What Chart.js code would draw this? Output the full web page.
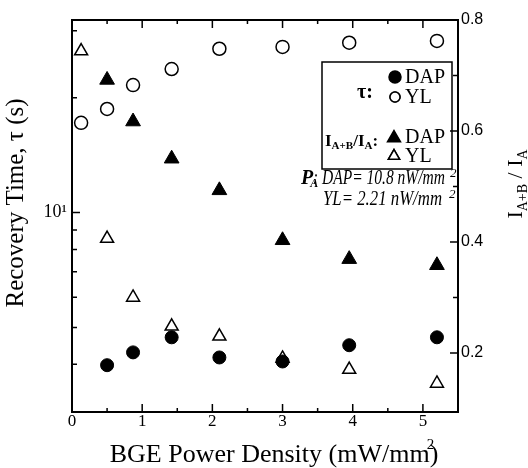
<!DOCTYPE html>
<html>
<head>
<meta charset="utf-8">
<script src="https://cdn.jsdelivr.net/npm/chart.js@4/dist/chart.umd.min.js"></script>
<style>
  body { margin: 0; background: #fff; }
  #wrap { width: 528px; height: 468px; }
</style>
</head>
<body>
<div id="wrap"><canvas id="chart"></canvas></div>
<script>
// values
const powerDAP = [0.5, 0.87, 1.42, 2.1, 3.0, 3.95, 5.2];
const powerYL = [0.13, 0.5, 0.87, 1.42, 2.1, 3.0, 3.95, 5.2];
const tauDAP = [3.98, 4.30, 4.71, 4.17, 4.07, 4.49, 4.71];
const tauYL = [17.2, 18.7, 21.6, 23.8, 26.9, 27.2, 27.9, 28.2];
const ratioDAP = [0.692, 0.617, 0.550, 0.493, 0.403, 0.369, 0.358];
const ratioYL = [0.744, 0.406, 0.300, 0.248, 0.230, 0.190, 0.170, 0.145];

const xTicks = [0, 1, 2, 3, 4, 5];
const xMinorTicks = [0.5, 1.5, 2.5, 3.5, 4.5];
const tauTicks = [10];
const tauMinorTicks = [4, 5, 6, 7, 8, 9, 20, 30];
const ratioTicks = [0.2, 0.4, 0.6, 0.8];
const ratioMinorTicks = [0.3, 0.5, 0.7];

const serif = '"Liberation Serif", "Times New Roman", serif';
const sans = '"Liberation Sans", Arial, sans-serif';

function pts(xs, ys) {
    return xs.map((x, i) => ({ x: x, y: ys[i] }));
}

// draw a string squeezed/stretched to a given width
function fitText(ctx, str, x, y, width) {
    const w = ctx.measureText(str).width;
    ctx.save();
    ctx.translate(x, y);
    ctx.scale(width / w, 1);
    ctx.fillText(str, 0, 0);
    ctx.restore();
}

const decorations = {
    id: 'decorations',
    afterDraw(chart) {
        const ctx = chart.ctx;
        const a = chart.chartArea;
        const xs = chart.scales.x;
        const yl = chart.scales.y;
        const yr = chart.scales.y2;

        ctx.save();
        ctx.strokeStyle = '#000';
        ctx.fillStyle = '#000';

        // frame
        ctx.lineWidth = 2;
        ctx.strokeRect(a.left, a.top, a.right - a.left, a.bottom - a.top);

        // inward ticks
        ctx.lineWidth = 1.5;
        ctx.beginPath();
        xTicks.concat(xMinorTicks).forEach(v => {
            const px = xs.getPixelForValue(v);
            const len = xTicks.includes(v) ? 8 : 4;
            ctx.moveTo(px, a.bottom); ctx.lineTo(px, a.bottom - len);
            ctx.moveTo(px, a.top); ctx.lineTo(px, a.top + len);
        });
        tauTicks.concat(tauMinorTicks).forEach(v => {
            const py = yl.getPixelForValue(v);
            const len = tauTicks.includes(v) ? 8 : 5;
            ctx.moveTo(a.left, py); ctx.lineTo(a.left + len, py);
        });
        ratioTicks.concat(ratioMinorTicks).forEach(v => {
            const py = yr.getPixelForValue(v);
            const len = ratioTicks.includes(v) ? 8 : 5;
            ctx.moveTo(a.right, py); ctx.lineTo(a.right - len, py);
        });
        ctx.stroke();

        // x title
        ctx.textBaseline = 'alphabetic';
        ctx.textAlign = 'left';
        ctx.font = '26px ' + serif;
        const t1 = 'BGE Power Density (mW/mm';
        const w1 = ctx.measureText(t1).width;
        const w3 = ctx.measureText(')').width;
        let x0 = 274 - (w1 + w3) / 2;
        ctx.fillText(t1, x0, 462);
        ctx.fillText(')', x0 + w1, 462);
        ctx.font = '15px ' + serif;
        ctx.fillText('2', x0 + w1 - 3, 449);

        // left title
        ctx.save();
        ctx.translate(23, 203);
        ctx.rotate(-Math.PI / 2);
        ctx.textAlign = 'center';
        ctx.font = '25px ' + serif;
        ctx.fillText('Recovery Time, \u03c4 (s)', 0, 0);
        ctx.restore();

        // right title  I_{A+B} / I_A
        ctx.save();
        ctx.translate(522, 184);
        ctx.rotate(-Math.PI / 2);
        ctx.textAlign = 'left';
        const big = '22px ' + serif, small = '14px ' + serif;
        const parts = [['I', big, 0], ['A+B', small, 5], [' / ', big, 0], ['I', big, 0], ['A', small, 5]];
        let total = 0;
        parts.forEach(p => { ctx.font = p[1]; total += ctx.measureText(p[0]).width; });
        let cx = -total / 2;
        parts.forEach(p => {
            ctx.font = p[1];
            ctx.fillText(p[0], cx, p[2]);
            cx += ctx.measureText(p[0]).width;
        });
        ctx.restore();

        // legend box
        ctx.lineWidth = 1.5;
        ctx.strokeRect(322, 62, 130, 107);
        const H = Chart.helpers;
        H.drawPoint(ctx, { pointStyle: 'circle', radius: 6, borderWidth: 1 }, 395, 77);
        ctx.fill();
        ctx.fillStyle = '#fff';
        H.drawPoint(ctx, { pointStyle: 'circle', radius: 5, borderWidth: 1.3 }, 395, 97);
        ctx.fill(); ctx.stroke();
        ctx.fillStyle = '#000';
        H.drawPoint(ctx, { pointStyle: 'triangle', radius: 7.5, borderWidth: 1 }, 394, 138);
        ctx.fill();
        ctx.fillStyle = '#fff';
        H.drawPoint(ctx, { pointStyle: 'triangle', radius: 6.5, borderWidth: 1.3 }, 394, 156);
        ctx.fill(); ctx.stroke();
        ctx.fillStyle = '#000';

        ctx.textBaseline = 'middle';
        ctx.font = '20px ' + serif;
        ctx.fillText('DAP', 405, 78);
        ctx.fillText('YL', 405, 98);
        ctx.fillText('DAP', 405, 138);
        ctx.fillText('YL', 405, 157);
        ctx.font = 'bold 20px ' + serif;
        ctx.fillText('\u03c4:', 357, 93);

        // I_{A+B}/I_A:
        ctx.textBaseline = 'alphabetic';
        const lparts = [['I', 'bold 17px ' + serif, 0], ['A+B', 'bold 11px ' + serif, 3],
                        ['/I', 'bold 17px ' + serif, 0], ['A', 'bold 11px ' + serif, 3], [':', 'bold 17px ' + serif, 0]];
        let lx = 325;
        lparts.forEach(p => {
            ctx.font = p[1];
            ctx.fillText(p[0], lx, 146 + p[2]);
            lx += ctx.measureText(p[0]).width;
        });

        // P_A annotation
        ctx.font = 'italic bold 20px ' + serif;
        ctx.fillText('P', 301, 184);
        let pw = ctx.measureText('P').width * 0.75;
        ctx.font = 'italic bold 12px ' + serif;
        ctx.fillText('A', 301 + pw, 187);
        ctx.font = 'italic 20px ' + serif;
        fitText(ctx, ': DAP= 10.8 nW/mm', 313, 184, 132);
        fitText(ctx, 'YL= 2.21 nW/mm', 323, 205, 119);
        ctx.font = 'italic 13px ' + serif;
        ctx.fillText('2', 450, 177);
        ctx.fillText('2', 449, 198);

        ctx.restore();
    }
};

new Chart(document.getElementById('chart'), {
    type: 'scatter',
    data: {
        datasets: [
            {
                label: 'tau DAP',
                data: pts(powerDAP, tauDAP),
                yAxisID: 'y',
                pointStyle: 'circle',
                pointRadius: 6.5,
                backgroundColor: '#000',
                borderColor: '#000',
                borderWidth: 1
            },
            {
                label: 'tau YL',
                data: pts(powerYL, tauYL),
                yAxisID: 'y',
                pointStyle: 'circle',
                pointRadius: 6.5,
                backgroundColor: '#fff',
                borderColor: '#000',
                borderWidth: 1.5
            },
            {
                label: 'ratio DAP',
                data: pts(powerDAP, ratioDAP),
                yAxisID: 'y2',
                pointStyle: 'triangle',
                pointRadius: 8.5,
                backgroundColor: '#000',
                borderColor: '#000',
                borderWidth: 1
            },
            {
                label: 'ratio YL',
                data: pts(powerYL, ratioYL),
                yAxisID: 'y2',
                pointStyle: 'triangle',
                pointRadius: 7.5,
                backgroundColor: '#fff',
                borderColor: '#000',
                borderWidth: 1.5
            }
        ]
    },
    options: {
        responsive: true,
        maintainAspectRatio: false,
        animation: false,
        layout: { padding: { top: 20, left: 0, right: 0, bottom: 0 } },
        plugins: {
            legend: { display: false },
            tooltip: { enabled: false }
        },
        scales: {
            x: {
                type: 'linear',
                position: 'bottom',
                min: 0,
                max: 5.5,
                grid: { display: false, drawTicks: false },
                border: { display: false },
                afterBuildTicks: s => { s.ticks = xTicks.map(v => ({ value: v })); },
                afterFit: s => { s.height = 56; },
                ticks: {
                    color: '#000',
                    padding: -1,
                    font: { family: serif, size: 17 },
                    callback: v => String(v)
                }
            },
            y: {
                type: 'logarithmic',
                position: 'left',
                min: 3,
                max: 32,
                grid: { display: false, drawTicks: false },
                border: { display: false },
                afterBuildTicks: s => { s.ticks = tauTicks.map(v => ({ value: v })); },
                afterFit: s => { s.width = 72; },
                ticks: {
                    color: '#000',
                    padding: 5,
                    font: { family: serif, size: 18 },
                    callback: v => v === 10 ? '10\u00b9' : ''
                }
            },
            y2: {
                type: 'linear',
                position: 'right',
                min: 0.0935,
                max: 0.8,
                grid: { display: false, drawTicks: false },
                border: { display: false },
                afterBuildTicks: s => { s.ticks = ratioTicks.map(v => ({ value: v })); },
                afterFit: s => { s.width = 70; },
                ticks: {
                    color: '#000',
                    padding: 3,
                    font: { family: sans, size: 16 },
                    callback: v => v.toFixed(1)
                }
            }
        }
    },
    plugins: [decorations]
});
</script>
</body>
</html>
